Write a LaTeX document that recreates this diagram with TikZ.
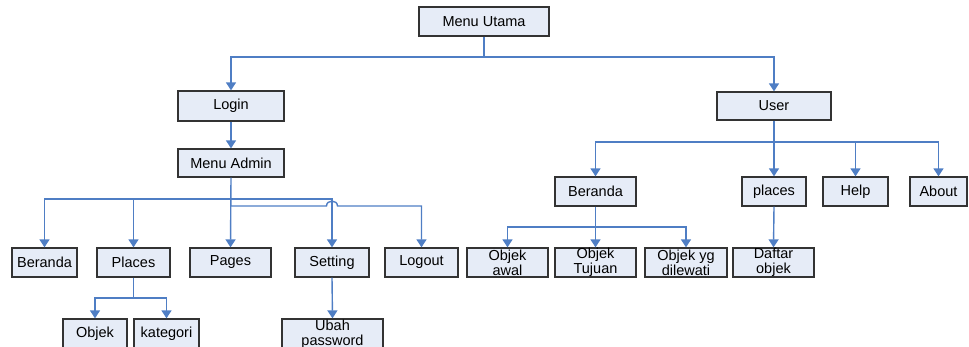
\documentclass[tikz,border=0pt]{standalone}
\usepackage{fontspec}
\setmainfont{Liberation Sans}
\usetikzlibrary{arrows.meta}
\definecolor{boxfill}{HTML}{E6ECF7}
\definecolor{boxline}{HTML}{333333}
\definecolor{conncol}{HTML}{4F7EC4}
\tikzset{
  box/.style={draw=boxline, fill=boxfill, line width=1.3pt, inner sep=0pt, align=center,
    font=\fontsize{14.5}{15}\selectfont},
  link/.style={draw=conncol, line width=1.4pt},
  conn/.style={link, -{Triangle[width=10pt,length=8pt]}}
}
\begin{document}
\begin{tikzpicture}[x=1pt,y=-1pt]
\useasboundingbox (0,0) rectangle (969,347);
% nodes
\node[box, minimum width=130, minimum height=29] (mu) at (484,21.5) {Menu Utama};
\node[box, minimum width=106, minimum height=30] (login) at (231,106) {Login};
\node[box, minimum width=106, minimum height=28] (madmin) at (231,163) {Menu Admin};
\node[box, minimum width=114, minimum height=28] (user) at (774,106) {User};
% admin children
\node[box, minimum width=65, minimum height=29] (berL) at (44.5,262.5) {Beranda};
\node[box, minimum width=73, minimum height=29] (plL) at (133.5,262.5) {Places};
\node[box, minimum width=81, minimum height=29] (pages) at (230.5,262.5) {Pages};
\node[box, minimum width=74, minimum height=29] (setting) at (332,262.5) {Setting};
\node[box, minimum width=73, minimum height=29] (logout) at (421.5,262.5) {Logout};
\node[box, minimum width=64, minimum height=29] (objek) at (95,333.5) {Objek};
\node[box, minimum width=65, minimum height=29] (kat) at (166.5,333.5) {kategori};
\node[box, minimum width=101, minimum height=31] (ubah) at (332.5,334.5) {Ubah\\password};
% user children
\node[box, minimum width=81, minimum height=29] (berR) at (595.5,191.5) {Beranda};
\node[box, minimum width=64, minimum height=29] (plR) at (774,191.5) {places};
\node[box, minimum width=65, minimum height=29] (help) at (855.5,191.5) {Help};
\node[box, minimum width=57, minimum height=29] (about) at (938.5,191.5) {About};
\node[box, minimum width=81, minimum height=29] (oawal) at (507.5,262.5) {Objek\\awal};
\node[box, minimum width=81, minimum height=29] (otuj) at (595.5,262.5) {Objek\\Tujuan};
\node[box, minimum width=82, minimum height=29] (oyg) at (686,262.5) {Objek yg\\dilewati};
\node[box, minimum width=81, minimum height=29] (daftar) at (773.5,262.5) {Daftar\\objek};
% junctions
\coordinate (j1) at (484,57);
\coordinate (j2) at (231,199);
\coordinate (j3) at (231,206);
\coordinate (h1) at (326.5,206);
\coordinate (h2) at (337.5,206);
\coordinate (j4) at (133.5,298);
\coordinate (j5) at (774,142);
\coordinate (j6) at (595.5,227);
% connectors
\draw[link] (mu.south) -- (j1);
\draw[conn] (j1) -| (login.north);
\draw[conn] (j1) -| (user.north);
\draw[conn] (login.south) -- (madmin.north);
\draw[conn] (madmin.south) -- (pages.north);
\draw[conn] (j2) -| (berL.north);
\draw[conn] (j2) -| (plL.north);
\draw[conn] (j2) -| (setting.north);
\draw[conn] (j3) -- (h1) .. controls (326.5,199.5) and (337.5,199.5) .. (h2) -| (logout.north);
\draw[link] (plL.south) -- (j4);
\draw[conn] (j4) -| (objek.north);
\draw[conn] (j4) -| (kat.north);
\draw[conn] (setting.south) -- (ubah.north);
\draw[link] (user.south) -- (j5);
\draw[conn] (j5) -| (berR.north);
\draw[conn] (j5) -- (plR.north);
\draw[conn] (j5) -| (help.north);
\draw[conn] (j5) -| (about.north);
\draw[link] (berR.south) -- (j6);
\draw[conn] (j6) -| (oawal.north);
\draw[conn] (j6) -- (otuj.north);
\draw[conn] (j6) -| (oyg.north);
\draw[conn] (plR.south) -- (daftar.north);
\end{tikzpicture}
\end{document}
